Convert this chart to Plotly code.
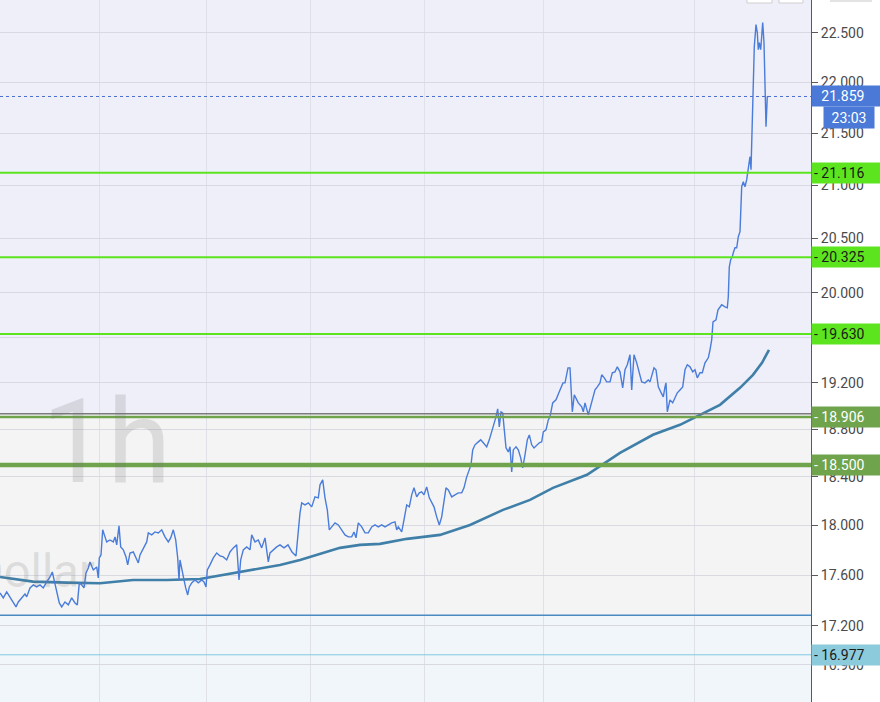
import math
import plotly.graph_objects as go

# hourly bar position and close price
bars = [0, 3.3, 6.7, 10, 13.3, 16, 18.3, 21.7, 25, 26.7, 30, 33.3, 36.7, 40, 43.3, 46.7, 50, 52.3, 54.3, 56.7,
        59.3, 61.7, 65, 68.3, 71.7, 75, 77.3, 79.3, 81.7, 84, 86, 88.3, 90, 93.3, 96.7, 98.3, 99.3, 101, 102.7, 105,
        106.7, 110, 113.3, 115, 116.7, 119, 120.7, 123.3, 126, 127.7, 130, 133.3, 136.7, 138.3, 140, 143.3, 146.7, 148.3, 151.7, 155,
        158.3, 161.7, 165, 168.3, 170.7, 173.3, 175.7, 177.7, 179, 180, 181.7, 184, 185.7, 187.7, 189.3, 191.7, 195, 198.3, 201.7, 204,
        206, 207.3, 210, 213.3, 216.7, 220, 223.3, 226.7, 230, 233.3, 236.7, 239, 240.7, 243.3, 246.7, 250, 251.7, 255, 258.3, 261.7,
        265, 266.7, 268.3, 270, 273.3, 276.7, 280, 284, 288, 292, 296, 300, 301.7, 305, 308.3, 311.7, 315, 318.3, 320, 322.7,
        325, 327.3, 329.3, 331.7, 335, 338.3, 341.7, 345, 348.3, 351.7, 354, 356, 358.3, 361.7, 365, 368.3, 371.7, 375, 378.3, 381.7,
        385, 388.3, 391.7, 395, 396.7, 398.3, 401.7, 404, 406.7, 409.3, 411.7, 414, 416.7, 419.3, 421.7, 424, 426.7, 429.3, 431.7, 434,
        436.7, 439.3, 441.7, 444, 446, 448.3, 451.7, 455, 458.3, 461.7, 464, 466.7, 469, 471, 472.7, 475, 478.3, 480.7, 483.3, 486.7,
        489.3, 491.7, 494, 496, 497.7, 499.3, 501, 502.7, 504.3, 506, 508.3, 510, 511.7, 513.3, 516, 518.3, 520.7, 522.7, 525, 527.3,
        529.3, 531.7, 534, 536.7, 539.3, 541.7, 543.3, 546, 548.3, 550, 552.7, 556, 558.3, 560, 563, 565, 568, 570, 572.3, 574.3,
        578.3, 581.7, 583.3, 585, 588.3, 590, 592.7, 595, 597.3, 600, 601.7, 604.3, 606.7, 610, 612.3, 615, 617.3, 620, 622.7, 625,
        627.3, 630, 631.7, 634, 636.7, 639, 641.7, 645, 648.3, 650, 652.3, 654, 656, 658.3, 660.7, 663.3, 665, 666, 667.3, 670,
        672.7, 675, 677.3, 680, 682.7, 685, 687.3, 690, 692.7, 695, 697.3, 700, 702.3, 705, 706.7, 708.3, 710, 711.7, 713, 716,
        718, 721.7, 725, 727.3, 728.3, 729.3, 730.7, 732.3, 733.3, 735, 736.7, 738.3, 740, 741, 741.7, 743.3, 745, 746.7, 748.3, 750,
        751, 752, 752.7, 753.3, 754.3, 756, 757.3, 758.3, 759.3, 760.7, 761.7, 762.7, 764, 765, 766, 767.3, 768.3]
close = [17.459, 17.420, 17.467, 17.428, 17.380, 17.349, 17.388, 17.420, 17.451, 17.428, 17.499, 17.523, 17.507, 17.523, 17.499, 17.546, 17.586, 17.626, 17.562, 17.483,
         17.380, 17.349, 17.388, 17.365, 17.420, 17.380, 17.365, 17.539, 17.523, 17.499, 17.618, 17.658, 17.706, 17.642, 17.666, 17.578, 17.738, 17.762, 17.965, 17.908,
         17.867, 17.883, 17.867, 17.908, 17.843, 17.997, 17.827, 17.803, 17.746, 17.682, 17.778, 17.786, 17.722, 17.698, 17.762, 17.819, 17.867, 17.940, 17.924, 17.948,
         17.940, 17.965, 17.908, 17.867, 17.900, 17.965, 17.883, 17.738, 17.562, 17.722, 17.642, 17.562, 17.499, 17.443, 17.507, 17.539, 17.562, 17.539, 17.562, 17.546,
         17.507, 17.642, 17.682, 17.738, 17.778, 17.754, 17.746, 17.722, 17.786, 17.819, 17.843, 17.562, 17.722, 17.803, 17.827, 17.803, 17.924, 17.867, 17.883, 17.819,
         17.900, 17.803, 17.706, 17.778, 17.803, 17.827, 17.843, 17.819, 17.843, 17.786, 17.754, 18.103, 18.186, 18.169, 18.186, 18.153, 18.235, 18.227, 18.335, 18.376,
         18.227, 18.128, 17.965, 17.989, 18.022, 18.005, 17.965, 17.924, 17.908, 17.908, 17.948, 17.900, 18.022, 17.989, 17.940, 17.940, 17.989, 18.005, 17.989, 18.005,
         17.989, 18.005, 18.022, 18.030, 17.965, 17.989, 17.948, 18.046, 18.169, 18.153, 18.252, 18.310, 18.235, 18.268, 18.277, 18.252, 18.318, 18.227, 18.194, 18.153,
         18.071, 18.005, 18.071, 18.210, 18.310, 18.293, 18.235, 18.252, 18.268, 18.268, 18.310, 18.401, 18.459, 18.501, 18.627, 18.670, 18.695, 18.712, 18.687, 18.653,
         18.712, 18.780, 18.857, 18.908, 18.977, 18.822, 18.951, 18.942, 18.797, 18.644, 18.610, 18.653, 18.443, 18.627, 18.653, 18.627, 18.560, 18.476, 18.585, 18.712,
         18.754, 18.670, 18.644, 18.670, 18.687, 18.695, 18.780, 18.797, 18.882, 18.908, 19.028, 19.054, 19.097, 19.140, 19.201, 19.201, 19.332, 19.332, 18.951, 19.097,
         19.028, 18.994, 18.951, 19.028, 18.925, 18.985, 19.071, 19.140, 19.166, 19.201, 19.271, 19.245, 19.210, 19.210, 19.289, 19.297, 19.341, 19.297, 19.158, 19.315,
         19.359, 19.447, 19.140, 19.447, 19.376, 19.289, 19.210, 19.201, 19.227, 19.210, 19.289, 19.332, 19.315, 19.166, 19.123, 19.080, 19.166, 19.201, 18.951, 19.054,
         19.028, 19.080, 19.115, 19.140, 19.166, 19.315, 19.359, 19.341, 19.297, 19.315, 19.245, 19.289, 19.289, 19.376, 19.403, 19.420, 19.490, 19.579, 19.739, 19.757,
         19.847, 19.892, 19.874, 19.865, 19.964, 20.237, 20.302, 20.329, 20.366, 20.412, 20.412, 20.514, 20.561, 20.861, 20.984, 21.032, 20.984, 21.051, 21.146, 21.271,
         21.146, 21.504, 21.897, 22.227, 22.358, 22.582, 22.500, 22.327, 22.398, 22.327, 22.459, 22.602, 22.398, 21.996, 21.561, 21.856, 21.859]

# moving average
ma_bars = [0, 33, 67, 100, 133, 167, 200, 233, 260, 280, 300, 320, 340, 360, 380, 407, 440, 470, 503, 530,
           553, 587, 620, 653, 680, 700, 720, 740, 753, 762, 769]
ma = [17.586, 17.549, 17.541, 17.536, 17.562, 17.562, 17.570, 17.616, 17.650, 17.682, 17.722, 17.770, 17.819, 17.843, 17.851,
      17.892, 17.924, 18.005, 18.128, 18.210, 18.310, 18.418, 18.602, 18.755, 18.840, 18.925, 19.011, 19.158, 19.271, 19.376, 19.490]

y_ticks = [16.6, 16.9, 17.2, 17.6, 18.0, 18.4, 18.8, 19.2, 19.6, 20.0, 20.5, 21.0, 21.5, 22.0, 22.5]
hidden_ticks = [19.6]   # fully covered by the 19.630 label
x_grid = [99, 206, 310, 424, 543, 694]

last_price = 21.859
countdown = "23:03"
zone_top = 18.935      # lavender / grey boundary
zone_bottom = 17.284   # grey / blue boundary
y_min, y_max = 16.618, 22.835

# level, line colour, line width, label bg, label text
levels = [
    (21.116, "#5ce51e", 2, "#5ce51e", "#1a1a1a"),
    (20.325, "#5ce51e", 2, "#5ce51e", "#1a1a1a"),
    (19.630, "#5ce51e", 2, "#5ce51e", "#1a1a1a"),
    (18.906, "#6fa34c", 2.5, "#6fa34c", "#ffffff"),
    (18.500, "#6fa34c", 4.5, "#6fa34c", "#ffffff"),
    (16.977, "#7fcbe0", 1, "#8ccbdc", "#1a1a1a"),
]

fig = go.Figure()

fig.add_trace(go.Scatter(x=ma_bars, y=ma, mode="lines", line=dict(color="#3f7fa8", width=2.6), hoverinfo="skip"))
fig.add_trace(go.Scatter(x=bars, y=close, mode="lines", line=dict(color="#4a7cda", width=1.4), hoverinfo="skip"))

shapes = [
    # background zones
    dict(type="rect", xref="paper", yref="y", x0=0, x1=1, y0=zone_top, y1=y_max, fillcolor="#eeeff8", line_width=0, layer="below"),
    dict(type="rect", xref="paper", yref="y", x0=0, x1=1, y0=zone_bottom, y1=zone_top, fillcolor="#f4f4f4", line_width=0, layer="below"),
    dict(type="rect", xref="paper", yref="y", x0=0, x1=1, y0=y_min, y1=zone_bottom, fillcolor="#f1f6fa", line_width=0, layer="below"),
    dict(type="line", xref="paper", yref="y", x0=0, x1=1, y0=zone_top, y1=zone_top, line=dict(color="#7a7a7a", width=1.5)),
    dict(type="line", xref="paper", yref="y", x0=0, x1=1, y0=zone_bottom, y1=zone_bottom, line=dict(color="#4a8bc4", width=1.5)),
    dict(type="line", xref="paper", yref="y", x0=0, x1=1, y0=last_price, y1=last_price,
         line=dict(color="#4a6fd0", width=1, dash="dot")),
]
annotations = []

LABEL_FONT = "Roboto"


def price_label(val, bg, fc, dash=True):
    tick = "-" if dash else "<span style='color:rgba(0,0,0,0)'>-</span>"
    return dict(xref="paper", x=1, xanchor="left", yref="y", y=math.log10(val), yanchor="middle",
                text=f"{tick} {val:.3f}", showarrow=False, align="left", width=74, height=16,
                bgcolor=bg, borderpad=2, font=dict(color=fc, size=14, family=LABEL_FONT))


for val, lc, lw, bg, fc in levels:
    shapes.append(dict(type="line", xref="paper", yref="y", x0=0, x1=1, y0=val, y1=val, line=dict(color=lc, width=lw)))
    annotations.append(price_label(val, bg, fc))

# last price + countdown
annotations.append(price_label(last_price, "#4a79d8", "white", dash=False))
annotations.append(dict(xref="paper", x=823 / 811, xanchor="left", yref="y", y=math.log10(last_price),
                        yshift=-21, yanchor="middle", text=countdown, showarrow=False, width=46, height=17,
                        bgcolor="#4a79d8", borderpad=2, align="center",
                        font=dict(color="white", size=14, family=LABEL_FONT)))

# watermark
annotations.append(dict(xref="paper", yref="paper", x=107 / 811, y=1 - 442 / 702, xanchor="center", yanchor="middle",
                        text="1h", showarrow=False, font=dict(size=116, color="rgba(120,120,120,0.2)", family="Roboto")))
annotations.append(dict(xref="paper", yref="paper", x=97 / 811, y=1 - 570 / 702, xanchor="right", yanchor="middle",
                        text="U.S. Dollar", showarrow=False, font=dict(size=47, color="rgba(120,120,120,0.2)", family="Roboto")))

# toolbar buttons peeking at the top
shapes.append(dict(type="rect", xref="paper", yref="paper", x0=747 / 811, x1=772 / 811, y0=1 - 3 / 702, y1=1.02,
                   fillcolor="white", line=dict(color="#cfcfcf", width=1)))
shapes.append(dict(type="rect", xref="paper", yref="paper", x0=779 / 811, x1=803 / 811, y0=1 - 3 / 702, y1=1.02,
                   fillcolor="white", line=dict(color="#cfcfcf", width=1)))
shapes.append(dict(type="rect", xref="paper", yref="paper", x0=830 / 811, x1=872 / 811, y0=1 - 2 / 702, y1=1.02,
                   fillcolor="#e3e3e3", line_width=0))

fig.update_layout(
    width=880, height=702,
    margin=dict(l=0, r=69, t=0, b=0),
    paper_bgcolor="white", plot_bgcolor="#eeeff8",
    showlegend=False,
    shapes=shapes, annotations=annotations,
    xaxis=dict(range=[0, 811], tickvals=x_grid, showticklabels=False, showgrid=True, gridcolor="#e0e0e8",
               zeroline=False, showline=False, ticks=""),
    yaxis=dict(type="log", side="right", range=[math.log10(y_min), math.log10(y_max)],
               tickvals=y_ticks, ticktext=["" if v in hidden_ticks else f"{v:.3f}" for v in y_ticks],
               showgrid=True, gridcolor="#d9d9e1", zeroline=False,
               showline=True, linecolor="#5a5a5a", linewidth=1,
               ticks="outside", ticklen=6, tickcolor="#5a5a5a",
               tickfont=dict(size=14, color="#4a4a4a", family="Roboto")),
)

fig.write_html("out.html", config={"displayModeBar": False},
               post_script="document.body.style.margin='0';")
